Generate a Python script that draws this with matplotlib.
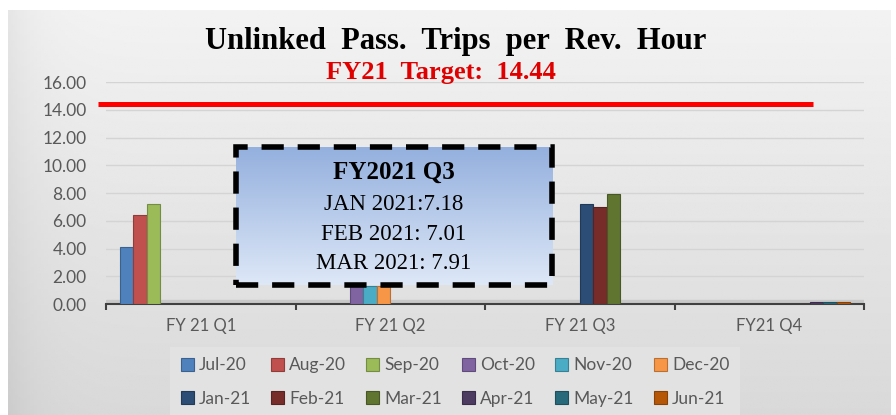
import numpy as np
import matplotlib
matplotlib.use('Agg')
import matplotlib.pyplot as plt
from matplotlib.patches import Rectangle

# --- dati ---
quarters = ['FY 21 Q1', 'FY 21 Q2', 'FY 21 Q3', 'FY21 Q4']
months = ['Jul-20', 'Aug-20', 'Sep-20', 'Oct-20', 'Nov-20', 'Dec-20',
          'Jan-21', 'Feb-21', 'Mar-21', 'Apr-21', 'May-21', 'Jun-21']
values = [4.10, 6.40, 7.20, 1.30, 1.30, 1.30, 7.18, 7.01, 7.91, 0.12, 0.12, 0.12]
colors = ['#4F81BD', '#C0504D', '#9BBB59', '#8064A2', '#4BACC6', '#F79646',
          '#2C4D75', '#772C2A', '#5F7530', '#4D3B62', '#276A7C', '#B65708']
target = 14.44
box_lines = ['JAN 2021:7.18', 'FEB 2021: 7.01', 'MAR 2021: 7.91']

W, H = 896, 415
fig = plt.figure(figsize=(W / 100, H / 100), dpi=100, facecolor='white')

# sfondo grigio sfumato
bg = fig.add_axes([8 / W, 0, 882 / W, 405 / H], zorder=-10)
grad = np.linspace(0.95, 0.85, 256).reshape(-1, 1) * np.ones((1, 256))
xs = np.linspace(0, 1, 256)
grad = grad - 0.05 * np.exp(-xs / 0.03)[None, :]
bg.imshow(grad, cmap='gray', vmin=0, vmax=1, aspect='auto', extent=[0, 1, 0, 1])
bg.set_axis_off()

ax = fig.add_axes([106 / W, (H - 304) / H, 758 / W, 222 / H])
ax.set_facecolor('none')

n = len(months)
w = 13.5 / 189.5
handles = []
for j, (m, v, c) in enumerate(zip(months, values, colors)):
  q = j // 3
  x = q + (j - (n - 1) / 2) * w
  edge = matplotlib.colors.to_hex(np.array(matplotlib.colors.to_rgb(c)) * 0.75)
  b = ax.bar(x, v, width=w, color=c, edgecolor=edge, linewidth=0.8, label=m, zorder=3)
  handles.append(b)

ax.set_xlim(-0.5, len(quarters) - 0.5)
ax.set_ylim(0, 16)
ax.set_yticks(np.arange(0, 17, 2))
ax.set_yticklabels([f'{t:.2f}' for t in np.arange(0, 17, 2)])
ax.set_xticks(range(len(quarters)))
ax.set_xticklabels(quarters)
ax.set_xticks(np.arange(-0.5, len(quarters), 1), minor=True)
ax.tick_params(axis='x', which='major', length=0, pad=10, labelsize=12, colors='#595959')
ax.tick_params(axis='x', which='minor', length=4, width=1.5, color='#404040')
ax.tick_params(axis='y', length=0, pad=14, labelsize=12.5, colors='#595959')
for lab in ax.get_xticklabels() + ax.get_yticklabels():
  lab.set_fontfamily('Lato')
ax.grid(axis='y', color='#d4d4d4', linewidth=1, zorder=0)
for s in ['top', 'right', 'left']:
  ax.spines[s].set_visible(False)
ax.spines['bottom'].set_color('#404040')
ax.spines['bottom'].set_linewidth(1.5)
# pavimento 3D
ax.axhspan(0, 0.3, color='#c8c8c8', zorder=1)

# linea obiettivo
ax.plot([-0.542, 3.231], [target, target], color='#ff0000', linewidth=3.6,
        clip_on=False, zorder=4, solid_capstyle='butt')

# titoli
fig.text(456 / W, 1 - 41 / H, 'Unlinked  Pass.  Trips  per  Rev.  Hour', ha='center', va='center',
         family='Liberation Serif', weight='bold', fontsize=22)
fig.text(441 / W, 1 - 73 / H, f'FY21  Target:  {target:.2f}', ha='center', va='center',
         family='Liberation Serif', weight='bold', fontsize=19, color='#e00000')

# riquadro Q3
bx = fig.add_axes([236 / W, (H - 285) / H, 316 / W, 138 / H], zorder=5)
g = np.linspace(0, 1, 256).reshape(-1, 1)
top_c = np.array([0.58, 0.69, 0.87])
bot_c = np.array([0.87, 0.91, 0.97])
img = top_c[None, None, :] * (1 - g[:, :, None]) + bot_c[None, None, :] * g[:, :, None]
bx.imshow(img, aspect='auto', extent=[0, 1, 0, 1])
bx.set_xlim(0, 1)
bx.set_ylim(0, 1)
bx.set_axis_off()
bx.add_patch(Rectangle((0, 0), 1, 1, fill=False, edgecolor='black', linewidth=4,
                       linestyle=(0, (4, 2.5)), clip_on=False))
fig.text(394 / W, 1 - 172 / H, 'FY2021 Q3', ha='center', va='center', zorder=6,
         family='Liberation Serif', weight='bold', fontsize=18)
for k, t in enumerate(box_lines):
  fig.text(394 / W, 1 - (205 + 29 * k) / H, t, ha='center', va='center', zorder=6,
           family='Liberation Serif', fontsize=16.5)

# legenda: riordino per riempire per righe (6 colonne, 2 righe)
ncol = 6
order = [r * ncol + c for c in range(ncol) for r in range(2)]
leg = ax.legend([handles[i] for i in order], [months[i] for i in order],
                loc='center', bbox_to_anchor=(455 / W, 1 - 382 / H), bbox_transform=fig.transFigure,
                ncol=ncol, frameon=True, handlelength=0.75, handleheight=0.75,
                handletextpad=0.3, columnspacing=1.15, borderpad=0.6, labelspacing=1.0,
                prop={'family': 'Lato', 'size': 12.5})
leg.get_frame().set_facecolor('#e2e2e2')
leg.get_frame().set_edgecolor('none')
leg.get_frame().set_alpha(1)
leg.get_frame().set_boxstyle('square', pad=0)
for t in leg.get_texts():
  t.set_color('#595959')

fig.savefig('out.png', dpi=100)
